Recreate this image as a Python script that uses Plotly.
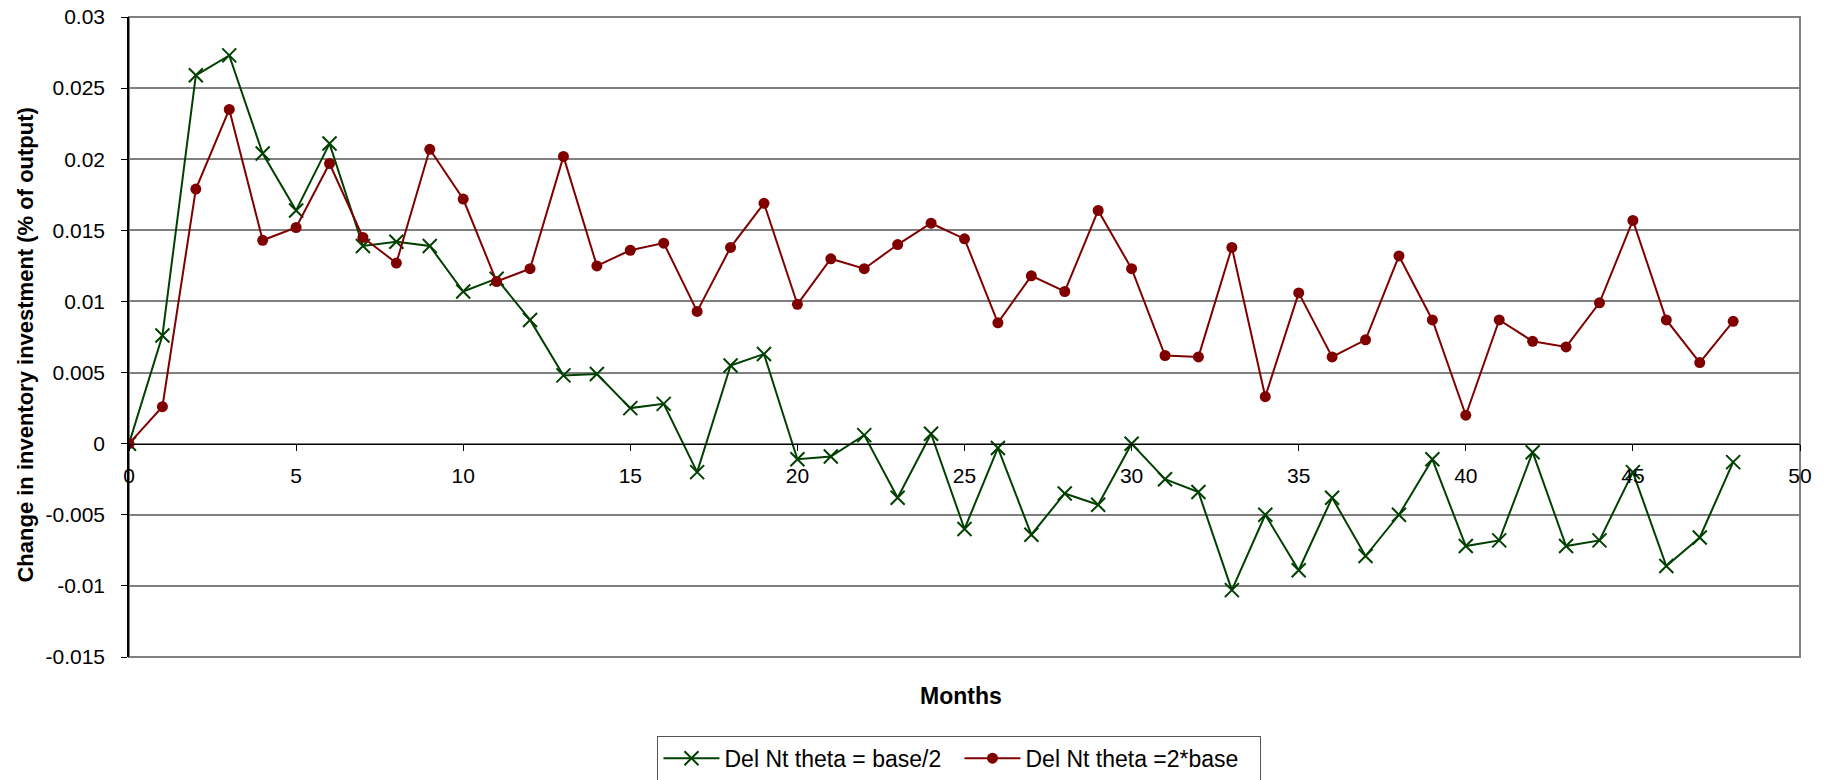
import plotly.graph_objects as go

# Monthly response of inventory investment for two theta settings
months = list(range(49))

theta_half = [
    0.0, 0.0076, 0.0259, 0.0273, 0.0204, 0.0164, 0.0211, 0.0139, 0.0142, 0.0139,
    0.0107, 0.0116, 0.0087, 0.0048, 0.0049, 0.0025, 0.0028, -0.0020, 0.0055, 0.0063,
    -0.0011, -0.0009, 0.0006, -0.0038, 0.0007, -0.0060, -0.0003, -0.0064, -0.0035, -0.0043,
    0.0000, -0.0025, -0.0034, -0.0103, -0.0050, -0.0089, -0.0038, -0.0079, -0.0050, -0.0011,
    -0.0072, -0.0068, -0.0006, -0.0072, -0.0068, -0.0020, -0.0086, -0.0066, -0.0013,
]

theta_double = [
    0.0, 0.0026, 0.0179, 0.0235, 0.0143, 0.0152, 0.0197, 0.0145, 0.0127, 0.0207,
    0.0172, 0.0114, 0.0123, 0.0202, 0.0125, 0.0136, 0.0141, 0.0093, 0.0138, 0.0169,
    0.0098, 0.0130, 0.0123, 0.0140, 0.0155, 0.0144, 0.0085, 0.0118, 0.0107, 0.0164,
    0.0123, 0.0062, 0.0061, 0.0138, 0.0033, 0.0106, 0.0061, 0.0073, 0.0132, 0.0087,
    0.0020, 0.0087, 0.0072, 0.0068, 0.0099, 0.0157, 0.0087, 0.0057, 0.0086,
]

x_tick_vals = [0, 5, 10, 15, 20, 25, 30, 35, 40, 45, 50]
x_tick_text = ["0", "5", "10", "15", "20", "25", "30", "35", "40", "45", "50"]
y_tick_vals = [0.03, 0.025, 0.02, 0.015, 0.01, 0.005, 0.0, -0.005, -0.01, -0.015]
y_tick_text = ["0.03", "0.025", "0.02", "0.015", "0.01", "0.005", "0", "-0.005", "-0.01", "-0.015"]

series_names = ["Del Nt theta = base/2", "Del Nt theta =2*base"]

GREEN = "#004000"
RED = "#800000"
GRID = "#808080"
FONT = "Liberation Sans, Arial, sans-serif"

Y_MIN, Y_MAX = -0.015, 0.03

fig = go.Figure()

fig.add_trace(go.Scatter(
    x=months, y=theta_half, name=series_names[0], mode="lines+markers",
    line=dict(color=GREEN, width=2),
    marker=dict(symbol="x-thin", size=14, color=GREEN, line=dict(color=GREEN, width=2)),
))

fig.add_trace(go.Scatter(
    x=months, y=theta_double, name=series_names[1], mode="lines+markers",
    line=dict(color=RED, width=2),
    marker=dict(symbol="circle", size=11, color=RED),
))

# x axis crosses the value axis at zero
zero_pos = (0 - Y_MIN) / (Y_MAX - Y_MIN)

fig.update_layout(
    width=1831, height=780,
    margin=dict(l=129, r=31, t=17, b=123, autoexpand=False),
    paper_bgcolor="white", plot_bgcolor="white",
    font=dict(family=FONT, color="black"),
    showlegend=True,
    xaxis=dict(
        range=[0, 50], anchor="free", position=zero_pos, automargin=False,
        tickmode="array", tickvals=x_tick_vals, ticktext=x_tick_text,
        ticks="outside", ticklen=6, tickwidth=1, tickcolor="black",
        showline=True, linecolor="black", linewidth=1.2,
        showgrid=False, zeroline=False,
        tickfont=dict(size=21, family=FONT, color="black"),
        ticklabelstandoff=7,
    ),
    yaxis=dict(
        range=[Y_MIN, Y_MAX], automargin=False,
        tickmode="array", tickvals=y_tick_vals, ticktext=y_tick_text,
        ticks="outside", ticklen=6, tickwidth=1, tickcolor="black",
        showline=True, linecolor="black", linewidth=1.5,
        showgrid=True, gridcolor=GRID, gridwidth=1.5,
        zeroline=False,
        tickfont=dict(size=21, family=FONT, color="black"),
        ticklabelstandoff=12,
    ),
    legend=dict(
        orientation="h", x=0.497, xanchor="center", y=-0.123, yanchor="top",
        bordercolor="#555555", borderwidth=1, bgcolor="white",
        itemwidth=56, entrywidth=230, entrywidthmode="pixels",
        font=dict(size=23, family=FONT, color="black"),
    ),
    shapes=[dict(
        type="rect", xref="x domain", yref="y domain",
        x0=0, x1=1, y0=0, y1=1,
        line=dict(color=GRID, width=2), layer="below",
    )],
    annotations=[
        dict(
            text="<b>Months</b>", xref="paper", yref="paper",
            x=0.498, y=-0.061, xanchor="center", yanchor="middle",
            showarrow=False, font=dict(size=23, family=FONT, color="black"),
        ),
        dict(
            text="<b>Change in inventory investment (% of output)</b>",
            xref="paper", yref="paper", x=-0.0625, y=0.4875,
            xanchor="center", yanchor="middle", textangle=-90,
            showarrow=False, font=dict(size=22, family=FONT, color="black"),
        ),
    ],
)

fig.write_html("out.html")
